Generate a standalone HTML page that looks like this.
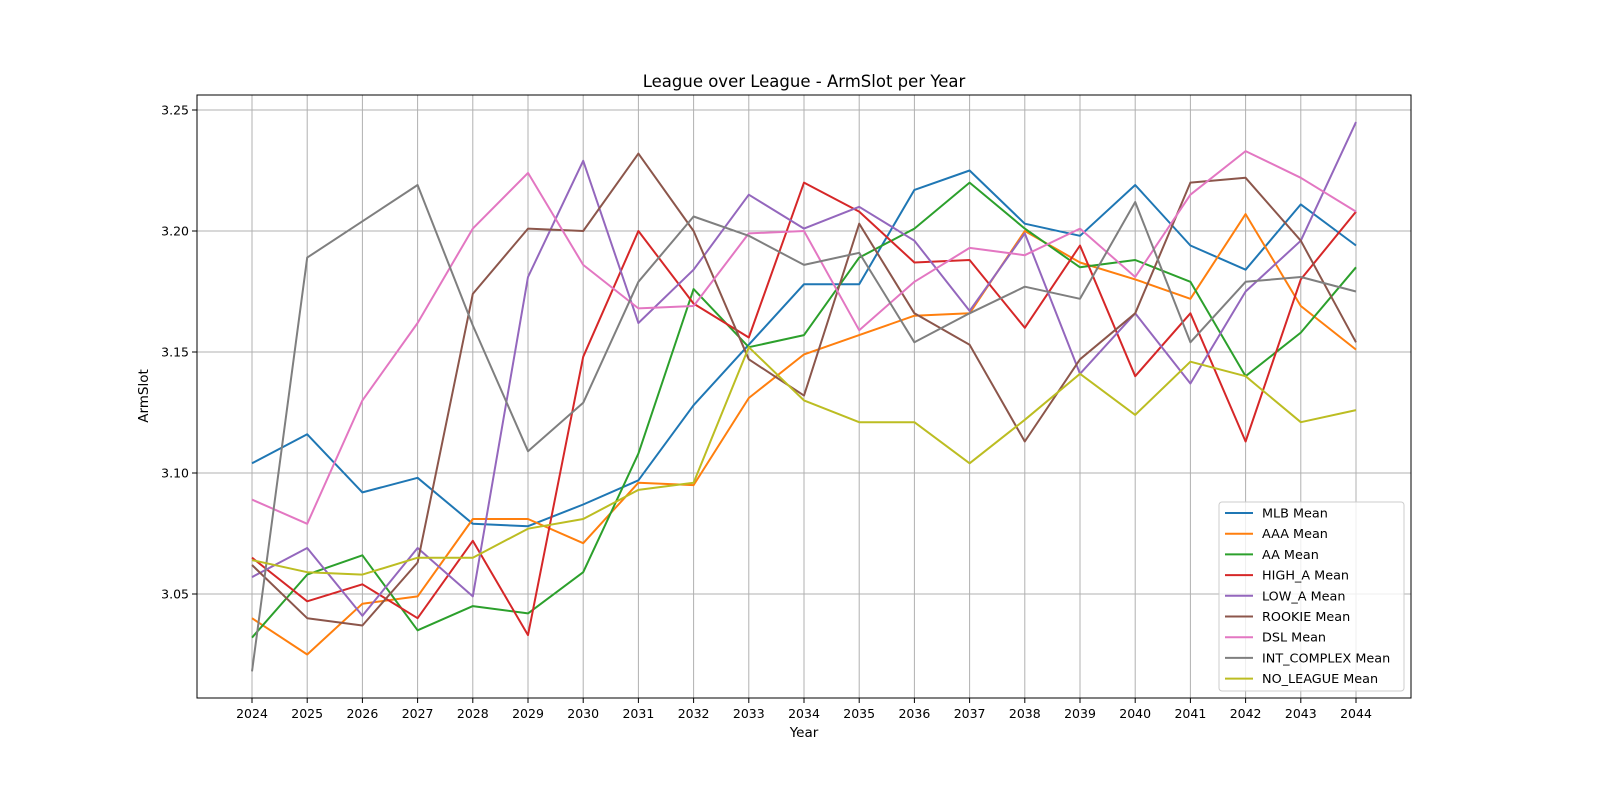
<!DOCTYPE html>
<html><head><meta charset="utf-8"><style>
body{margin:0;background:#fff;}
svg text{font-family:"DejaVu Sans","Liberation Sans",sans-serif;fill:#000;}
</style></head><body>
<svg id="chart" width="1600" height="800" xmlns="http://www.w3.org/2000/svg">
<rect width="1600" height="800" fill="#fff"/>
<g id="grid"></g>
<g id="series"></g>
<rect x="197" y="95" width="1214" height="603" fill="none" stroke="#000" stroke-width="1"/>
<g id="xticks"></g>
<g id="yticks"></g>
<text x="804" y="87" font-size="16.5" text-anchor="middle">League over League - ArmSlot per Year</text>
<text x="804" y="737" font-size="13.5" text-anchor="middle">Year</text>
<text x="148" y="396" font-size="13.5" text-anchor="middle" transform="rotate(-90 148 396)">ArmSlot</text>
<g id="legend"></g>
</svg>
<script>
const years=[2024,2025,2026,2027,2028,2029,2030,2031,2032,2033,2034,2035,2036,2037,2038,2039,2040,2041,2042,2043,2044];
const yTicks=[3.05,3.10,3.15,3.20,3.25];
const seriesNames=["MLB Mean","AAA Mean","AA Mean","HIGH_A Mean","LOW_A Mean","ROOKIE Mean","DSL Mean","INT_COMPLEX Mean","NO_LEAGUE Mean"];
const colors=["#1f77b4","#ff7f0e","#2ca02c","#d62728","#9467bd","#8c564b","#e377c2","#7f7f7f","#bcbd22"];
const mlb=[3.104,3.116,3.092,3.098,3.079,3.078,3.087,3.097,3.128,3.153,3.178,3.178,3.217,3.225,3.203,3.198,3.219,3.194,3.184,3.211,3.194];
const aaa=[3.040,3.025,3.046,3.049,3.081,3.081,3.071,3.096,3.095,3.131,3.149,3.157,3.165,3.166,3.200,3.187,3.180,3.172,3.207,3.169,3.151];
const aa=[3.032,3.058,3.066,3.035,3.045,3.042,3.059,3.108,3.176,3.152,3.157,3.189,3.201,3.220,3.201,3.185,3.188,3.179,3.140,3.158,3.185];
const highA=[3.065,3.047,3.054,3.040,3.072,3.033,3.148,3.200,3.170,3.156,3.220,3.208,3.187,3.188,3.160,3.194,3.140,3.166,3.113,3.180,3.208];
const lowA=[3.057,3.069,3.041,3.069,3.049,3.181,3.229,3.162,3.184,3.215,3.201,3.210,3.196,3.167,3.199,3.141,3.166,3.137,3.175,3.196,3.245];
const rookie=[3.062,3.040,3.037,3.063,3.174,3.201,3.200,3.232,3.200,3.147,3.132,3.203,3.166,3.153,3.113,3.147,3.166,3.220,3.222,3.196,3.154];
const dsl=[3.089,3.079,3.130,3.162,3.201,3.224,3.186,3.168,3.169,3.199,3.200,3.159,3.179,3.193,3.190,3.201,3.181,3.215,3.233,3.222,3.208];
const intComplex=[3.018,3.189,3.204,3.219,3.161,3.109,3.129,3.179,3.206,3.198,3.186,3.191,3.154,3.166,3.177,3.172,3.212,3.154,3.179,3.181,3.175];
const noLeague=[3.064,3.059,3.058,3.065,3.065,3.077,3.081,3.093,3.096,3.152,3.130,3.121,3.121,3.104,3.122,3.141,3.124,3.146,3.140,3.121,3.126];
const allSeries=[mlb,aaa,aa,highA,lowA,rookie,dsl,intComplex,noLeague];

const NS="http://www.w3.org/2000/svg";
const X0=252,X1=1356,Y0=594,Y1=110;
function xs(i){return X0+(X1-X0)*i/(years.length-1);}
function ys(v){return Y0+(v-3.05)*(Y1-Y0)/(3.25-3.05);}
function mk(tag,attrs,parent){const e=document.createElementNS(NS,tag);for(const k in attrs)e.setAttribute(k,attrs[k]);parent.appendChild(e);return e;}
const grid=document.getElementById('grid'),xt=document.getElementById('xticks'),yt=document.getElementById('yticks'),sg=document.getElementById('series'),lg=document.getElementById('legend');
years.forEach((yr,i)=>{
  const x=xs(i);
  const g=mk('line',{x1:x,x2:x,y1:95,y2:698,stroke:'#b0b0b0','stroke-width':1},grid);
  
  
  const t=mk('line',{x1:x,x2:x,y1:698,y2:703,stroke:'#000'},xt);
  
  
  const l=mk('text',{x:x,y:718,'font-size':12.5,'text-anchor':'middle'},xt);
  l.textContent=yr;
  
  
});
yTicks.forEach(v=>{
  const y=ys(v);
  const g=mk('line',{x1:197,x2:1411,y1:y,y2:y,stroke:'#b0b0b0','stroke-width':1},grid);
  
  
  const t=mk('line',{x1:192,x2:197,y1:y,y2:y,stroke:'#000'},yt);
  
  
  const l=mk('text',{x:189,y:y+4.5,'font-size':12.5,'text-anchor':'end'},yt);
  l.textContent=v.toFixed(2);
  
  
});
allSeries.forEach((s,k)=>{
  const pts=s.map((v,i)=>xs(i).toFixed(1)+','+ys(v).toFixed(1)).join(' ');
  const p=mk('polyline',{points:pts,fill:'none',stroke:colors[k],'stroke-width':2,'stroke-linejoin':'round'},sg);
  
  
});
const box=mk('rect',{x:1219,y:502,width:185,height:189,rx:3,fill:'#fff','fill-opacity':0.8,stroke:'#ccc'},lg);


seriesNames.forEach((n,k)=>{
  const y=513+k*20.7;
  const ln=mk('line',{x1:1225,x2:1253,y1:y,y2:y,stroke:colors[k],'stroke-width':2},lg);
  
  
  const t=mk('text',{x:1262,y:y+4.5,'font-size':12.8},lg);
  t.textContent=n;
  
  
});
</script>
</body></html>
